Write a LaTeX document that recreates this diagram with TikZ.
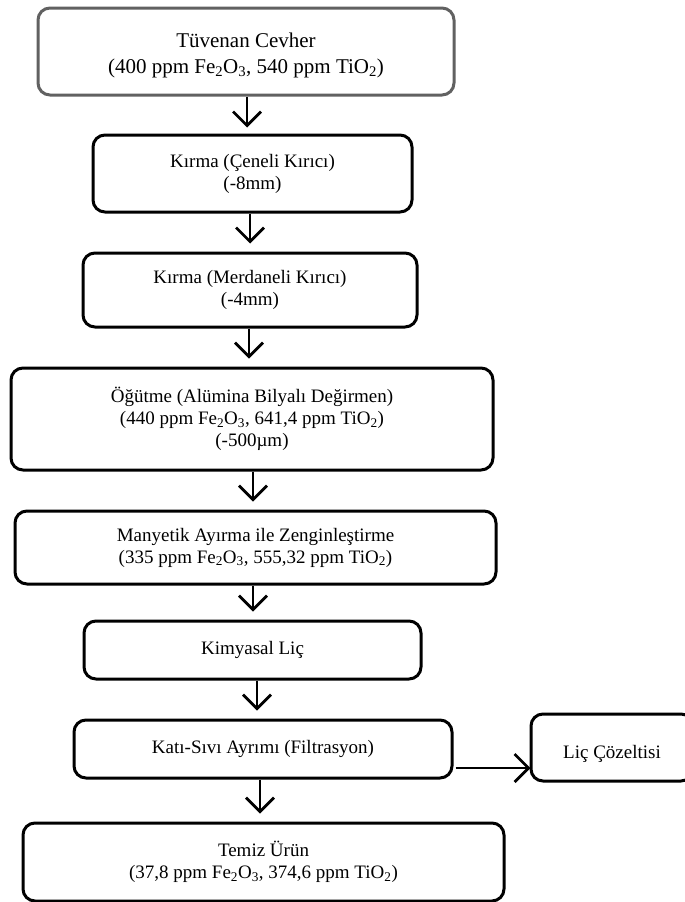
\documentclass[tikz,border=0pt]{standalone}
\usepackage{fontspec}
\setmainfont{Liberation Serif}
\usetikzlibrary{arrows.meta}
\newcommand\chsub[1]{\textsubscript{#1}}
\begin{document}
\begin{tikzpicture}[x=1pt,y=-1pt,
  box/.style={draw, line width=3pt, rounded corners=12pt, align=center,
    font=\fontsize{19}{22}\selectfont, inner sep=0pt},
  topbox/.style={box, draw=black!62, font=\fontsize{21}{26}\selectfont},
  arr/.style={-{Straight Barb[length=14pt,width=28pt,line width=2.8pt]},
    line width=2.8pt, shorten >=8pt}]
\useasboundingbox (0,0) rectangle (685,902);
\begin{scope}
\clip (0,0) rectangle (685,902);
\node[topbox, minimum width=416pt, minimum height=87pt] (b1) at (246,51.5)
  {\raisebox{-4pt}[\height][\depth]{\begin{tabular}{@{}c@{}}Tüvenan Cevher\\(400 ppm Fe\chsub{2}O\chsub{3}, 540 ppm TiO\chsub{2})\end{tabular}}};
\node[box, minimum width=319pt, minimum height=77pt] (b2) at (252.5,173.5)
  {Kırma (Çeneli Kırıcı)\\(-8mm)};
\node[box, minimum width=334pt, minimum height=74pt] (b3) at (250,290)
  {Kırma (Merdaneli Kırıcı)\\(-4mm)};
\node[box, minimum width=482pt, minimum height=102pt] (b4) at (252,419)
  {Öğütme (Alümina Bilyalı Değirmen)\\(440 ppm Fe\chsub{2}O\chsub{3}, 641,4 ppm TiO\chsub{2})\\(-500µm)};
\node[box, minimum width=481pt, minimum height=73pt] (b5) at (255.5,547.5)
  {Manyetik Ayırma ile Zenginleştirme\\(335 ppm Fe\chsub{2}O\chsub{3}, 555,32 ppm TiO\chsub{2})};
\node[box, minimum width=337pt, minimum height=58pt] (b6) at (252.5,650)
  {Kimyasal Liç};
\node[box, minimum width=378pt, minimum height=58pt] (b7) at (263,749)
  {Katı-Sıvı Ayrımı (Filtrasyon)};
\node[box, minimum width=162pt, minimum height=67pt] (b8) at (612,747.5)
  {\raisebox{-6pt}[\height][\depth]{Liç Çözeltisi}};
\node[box, minimum width=481pt, minimum height=78pt] (b9) at (263.5,862)
  {Temiz Ürün\\(37,8 ppm Fe\chsub{2}O\chsub{3}, 374,6 ppm TiO\chsub{2})};
\end{scope}
\draw[arr, shorten >=6pt] ([xshift=1pt]b1.south) -- ([xshift=1pt]b1.south |- b2.north);
\draw[arr] ([xshift=-2.5pt]b2.south) -- ([xshift=-2.5pt]b2.south |- b3.north);
\draw[arr] ([xshift=-1pt]b3.south) -- ([xshift=-1pt]b3.south |- b4.north);
\draw[arr] ([xshift=1pt]b4.south) -- ([xshift=1pt]b4.south |- b5.north);
\draw[arr] ([xshift=-2.5pt]b5.south) -- ([xshift=-2.5pt]b5.south |- b6.north);
\draw[arr] ([xshift=4.5pt]b6.south) -- ([xshift=4.5pt]b6.south |- b7.north);
\draw[arr] ([xshift=-3pt]b7.south) -- ([xshift=-3pt]b7.south |- b9.north);
\draw[arr, shorten >=1pt] ([yshift=-19pt,xshift=2pt]b7.east) -- ([yshift=-19pt,xshift=2pt]b7.east -| b8.west);
\end{tikzpicture}
\end{document}
